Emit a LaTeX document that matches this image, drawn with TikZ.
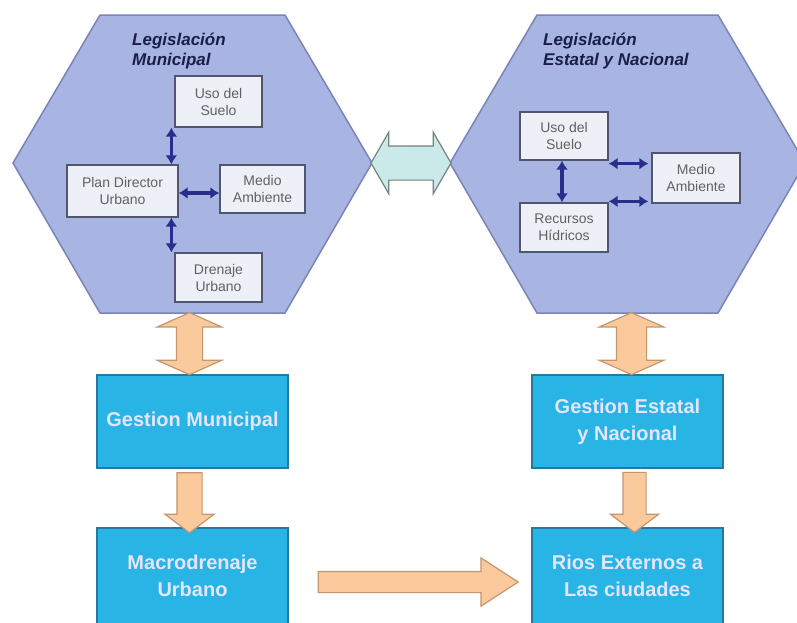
\documentclass[tikz,border=0pt]{standalone}
\usepackage{fontspec}
\setmainfont{Liberation Sans}
\usepackage{tikz}
\usetikzlibrary{arrows.meta,positioning,shapes.arrows,calc}
\definecolor{hexfill}{RGB}{168,181,226}
\definecolor{hexline}{RGB}{122,132,184}
\definecolor{boxfill}{RGB}{238,240,248}
\definecolor{boxline}{RGB}{80,86,110}
\definecolor{navy}{RGB}{40,46,140}
\definecolor{gestfill}{RGB}{40,180,228}
\definecolor{gestline}{RGB}{38,120,158}
\definecolor{orfill}{RGB}{250,202,156}
\definecolor{orline}{RGB}{196,150,112}
\definecolor{cyfill}{RGB}{202,234,234}
\definecolor{cyline}{RGB}{118,130,130}
\definecolor{ttlcol}{RGB}{26,30,72}

\begin{document}
\begin{tikzpicture}[x=1pt, y=-1pt, every node/.style={inner sep=2pt}]
        \tikzset{
            hexa/.style={fill=hexfill, draw=hexline, line width=1.5pt},
            ttl/.style={anchor=north west, align=left, text=ttlcol, font=\fontsize{17}{20}\selectfont\bfseries\itshape},
            sb/.style={draw=boxline, fill=boxfill, line width=1.3pt, align=center, text=black!62, font=\fontsize{14}{17}\selectfont},
            gb/.style={draw=gestline, fill=gestfill, line width=1.5pt, align=center, minimum width=191pt, text=white!90!blue, font=\fontsize{20}{27}\selectfont\bfseries},
            nav/.style={{Latex[length=9pt,width=12pt]}-{Latex[length=9pt,width=12pt]}, navy, line width=3.5pt},
            fat/.style={fill=orfill, draw=orline, line width=1.2pt, inner xsep=0pt}
        }
        \useasboundingbox (0,0) rectangle (797,622);
        \fill[white] (0,0) rectangle (797,622);
        \clip (0,0) rectangle (797,622);
        % hexagons
        \draw[hexa] (13,163) coordinate (hL-w) -- (100,15) -- (285,15) -- (372,163) coordinate (hL-e)
            -- (285,313) -- (100,313) coordinate (hL-b) -- cycle;
        \draw[hexa] (450,163) coordinate (hR-w) -- (537,15) -- (718,15) -- (805,163)
            -- (718,313) -- (537,313) coordinate (hR-b) -- cycle;
        \node[ttl] (ttlL) at (130,31) {Legislación\\Municipal};
        \node[ttl] (ttlR) at (541,31) {Legislación\\Estatal y Nacional};
        \node[sb, minimum width=87pt, minimum height=51pt] (usoL) at (218.5,101.5) {Uso del\\Suelo};
        \node[sb, minimum width=111pt, minimum height=52pt] (pdu) at (122.5,191) {Plan Director\\Urbano};
        \node[sb, minimum width=85pt, minimum height=48pt] (medL) at (262.5,189) {Medio\\Ambiente};
        \node[sb, minimum width=87pt, minimum height=49pt] (drn) at (218.5,277.5) {Drenaje\\Urbano};
        \node[sb, minimum width=88pt, minimum height=48pt] (usoR) at (564,136) {Uso del\\Suelo};
        \node[sb, minimum width=88pt, minimum height=49pt] (rhd) at (564,227.5) {Recursos\\Hídricos};
        \node[sb, minimum width=88pt, minimum height=50pt] (medR) at (696,178) {Medio\\Ambiente};
        \draw[nav] ([xshift=-3pt]usoL.south west) -- ([xshift=-3pt]usoL.south west |- pdu.north);
        \draw[nav] ([yshift=-2pt]pdu.east) -- ([yshift=-2pt]pdu.east -| medL.west);
        \draw[nav] ([xshift=-3pt]drn.north west) -- ([xshift=-3pt]drn.north west |- pdu.south);
        \draw[nav] ([xshift=-2pt]usoR.south) -- ([xshift=-2pt]rhd.north);
        \draw[nav, shorten >=3pt] ([yshift=-3pt]usoR.south east) -- ([yshift=-3pt]usoR.south east -| medR.west);
        \draw[nav, shorten >=3pt] ([yshift=1pt]rhd.north east) -- ([yshift=1pt]rhd.north east -| medR.west);
        % gestion boxes
        \node[gb, minimum height=93pt] (gm) at (192.5,421.5) {Gestion Municipal};
        \node[gb, minimum height=96pt] (mu) at (192.5,576) {Macrodrenaje\\Urbano};
        \node[gb, minimum height=93pt] (ge) at (627.5,421.5) {Gestion Estatal\\y Nacional};
        \node[gb, minimum height=96pt] (re) at (627.5,576) {Rios Externos a\\Las ciudades};
        % fat arrows
        \node[fat, fill=cyfill, draw=cyline, double arrow, inner ysep=16.5pt, double arrow head extend=13.5pt,
            double arrow tip angle=120, minimum height=80pt] (dM) at ($(hL-e)!.5!(hR-w)$) {};
        \node[fat, double arrow, rotate=90, inner ysep=12.5pt, double arrow head extend=19pt,
            double arrow tip angle=132, minimum height=62pt] (dL) at ($([xshift=-3pt]gm.north)!.5!([xshift=-3pt]gm.north |- hL-b)$) {};
        \node[fat, double arrow, rotate=90, inner ysep=14.5pt, double arrow head extend=17pt,
            double arrow tip angle=132, minimum height=62pt] (dR) at ($([xshift=4pt]ge.north)!.5!([xshift=4pt]ge.north |- hR-b)$) {};
        \node[fat, single arrow, rotate=-90, inner ysep=12pt, single arrow head extend=12pt,
            single arrow tip angle=106, minimum height=60pt] (aL) at ($([xshift=-3pt]gm.south)!.5!([xshift=-3pt]mu.north)$) {};
        \node[fat, single arrow, rotate=-90, inner ysep=11pt, single arrow head extend=12.5pt,
            single arrow tip angle=106, minimum height=60pt] (aR) at ($([xshift=7pt]ge.south)!.5!([xshift=7pt]re.north)$) {};
        \node[fat, single arrow, inner ysep=10pt, single arrow head extend=13.5pt,
            single arrow tip angle=66, minimum height=200pt] (aH) at ($([yshift=-6pt]mu.east)!.5!([yshift=-6pt]re.west)$) {};
    \end{tikzpicture}
\end{document}
